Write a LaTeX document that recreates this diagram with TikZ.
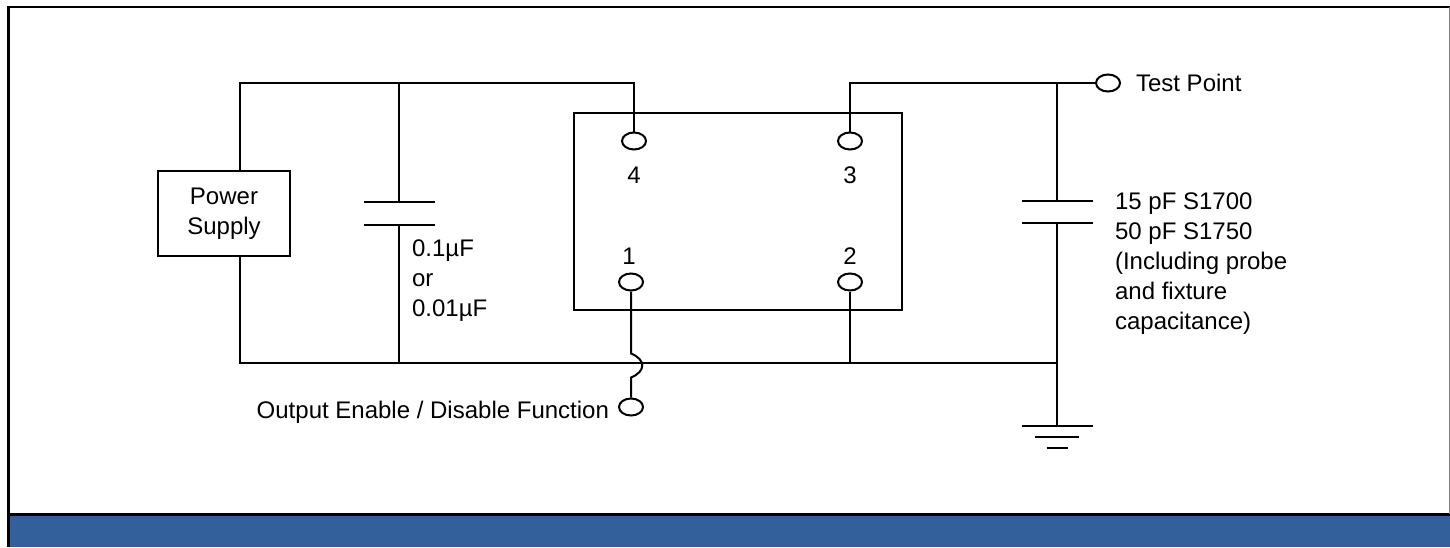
\documentclass[tikz,border=0pt]{standalone}
\usepackage{fontspec}
\setmainfont{Liberation Sans}
\usetikzlibrary{shapes.geometric, positioning}
\definecolor{barblue}{RGB}{51,96,154}
\tikzstyle{wire} = [line width=1pt, black]
\tikzstyle{block} = [
    rectangle,
    text centered, align=center,
    draw=black, line width=1pt
]
\tikzstyle{pin} = [
    ellipse, inner sep=0pt,
    minimum width=12pt, minimum height=8.5pt,
    draw=black, line width=1pt
]
\tikzstyle{plate} = [
    rectangle, inner sep=0pt,
    minimum width=35.5pt, minimum height=1pt,
    fill=black
]
\tikzstyle{txt} = [align=left, anchor=north west]

\begin{document}
\begin{tikzpicture}[x=0.5pt, y=-0.5pt, font=\fontsize{12}{15}\selectfont]
        \useasboundingbox (0,0) rectangle (1450,547);
        % Frame and bar
        \fill[barblue] (10,516) rectangle (1450,547);
        \draw[line width=1.4pt] (1450,7) -- (8.5,7) -- (8.5,547);
        \draw[line width=1.4pt] (8.5,514.5) -- (1450,514.5);
        \draw[gray, line width=0.5pt] (1449,7) -- (1449,514);

        % Draw blocks
        \node (ps) [block, minimum width=66pt, minimum height=42.5pt] at (224,213.5) {Power\\Supply};
        \node (chip) [block, minimum width=164pt, minimum height=98.5pt] at (738,211.5) {};
        \node (p4) [pin] at (634,141) {};
        \node (p3) [pin] at (850,141) {};
        \node (p1) [pin] at (631,282) {};
        \node (p2) [pin] at (850,282) {};
        \node (n4) at (634,175) {4};
        \node (n3) at (850,175) {3};
        \node (n1) at (629,256) {1};
        \node (n2) at (850,256) {2};
        \node (tp) [pin] at (1108,83) {};
        \node (tptext) [right=4pt of tp] {Test Point};
        \node (oe) [pin] at (631,407) {};
        \node (oetext) [left=1pt of oe, yshift=-2.5pt] {Output Enable / Disable Function};

        % Capacitors
        \node (c1t) [plate] at (399,202) {};
        \node (c1b) [plate] at (399,225) {};
        \node (c1text) [txt] at (405,233) {0.1µF\\or\\0.01µF};
        \node (c2t) [plate] at (1057,201) {};
        \node (c2b) [plate] at (1057,223) {};
        \node (c2text) [txt] at (1108,186) {15 pF S1700\\50 pF S1750\\(Including probe\\and fixture\\capacitance)};

        \coordinate (tl) at (240,83);
        \coordinate (bl) at (240,363);
        \coordinate (br) at (1057,363);
        \coordinate (gnd) at (1057,426);

        % Draw wires
        \draw [wire] ([xshift=8pt]ps.north) -- (tl) -| (p4.north);
        \draw [wire] (c1t.north) -- (c1t |- tl);
        \draw [wire] ([xshift=8pt]ps.south) -- (bl) -- (br);
        \draw [wire] (c1b.south) -- (c1b |- bl);
        \draw [wire] (p2.south) -- (p2 |- bl);
        \draw [wire] (p3.north) |- (tp.west);
        \draw [wire] (c2t.north) -- (c2t |- tp);
        \draw [wire] (c2b.south) -- (gnd);
        \draw [wire] (p1.south) -- ++(0,62) .. controls +(15,6) and +(15,-6) .. ++(0,24) -- (oe.north);

        % Ground
        \foreach \w/\dy in {35.5/0, 22/11, 10.5/22}
            \draw [wire] (gnd) ++(-\w,\dy) -- ++({2*\w},0);
    \end{tikzpicture}
\end{document}
